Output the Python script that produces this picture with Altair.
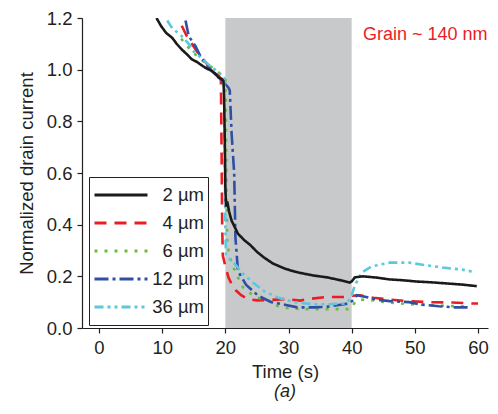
import altair as alt
import pandas as pd

# ---------------- data ----------------
series_names = ["2 µm", "4 µm", "6 µm", "12 µm", "36 µm"]
series_colors = ["#1a1a1a", "#ec1c24", "#6cbd45", "#2e4fa3", "#5bc8dc"]
series_dashes = [[1, 0], [12, 8], [3, 7], [14, 4, 3, 4], [9, 4, 3, 4, 3, 4]]

t_2um = [9.1, 9.8, 10.6, 11.6, 12.3, 13.1, 13.9, 14.7, 15.5, 16.3, 17.0, 17.7, 18.4,
         18.9, 19.4, 19.7, 19.8, 19.9, 20.0, 20.1, 20.3, 20.6, 21.0, 21.5, 22.0, 23.0,
         24.0, 25.0, 26.0, 27.5, 29.4, 31.0, 32.5, 34.0, 36.1, 38.0, 39.7, 40.0, 40.5,
         41.8, 44.0, 46.0, 48.0, 50.2, 52.5, 55.3, 57.5, 59.8]
v_2um = [1.20, 1.17, 1.143, 1.123, 1.10, 1.078, 1.06, 1.04, 1.03, 1.016, 1.005, 0.997, 0.985,
         0.97, 0.965, 0.955, 0.90, 0.75, 0.55, 0.47, 0.49, 0.45, 0.415, 0.39, 0.365, 0.34,
         0.32, 0.295, 0.275, 0.25, 0.23, 0.218, 0.21, 0.203, 0.196, 0.186, 0.176, 0.18, 0.196,
         0.20, 0.195, 0.188, 0.185, 0.18, 0.177, 0.172, 0.168, 0.162]

t_4um = [13.1, 13.9, 14.7, 15.5, 16.5, 17.5, 18.4, 19.0, 19.3, 19.4, 19.5, 19.6, 20.0,
         20.5, 21.0, 21.7, 22.5, 23.6, 25.0, 27.0, 29.4, 31.9, 33.0, 36.1, 39.2, 40.0,
         41.3, 43.4, 46.0, 49.1, 52.2, 55.9, 59.0, 60.0]
v_4um = [1.17, 1.13, 1.10, 1.07, 1.04, 1.01, 0.99, 0.975, 0.96, 0.70, 0.40, 0.28, 0.24,
         0.195, 0.17, 0.145, 0.127, 0.112, 0.107, 0.108, 0.112, 0.106, 0.112, 0.12, 0.12, 0.125,
         0.127, 0.117, 0.11, 0.104, 0.10, 0.099, 0.095, 0.095]

t_6um = [13.0, 14.7, 16.4, 18.4, 19.6, 20.0, 20.1, 20.2, 20.3, 21.0, 22.0, 22.8, 24.7,
         26.7, 28.3, 30.3, 32.5, 36.1, 39.7, 40.0, 40.5, 41.3, 43.4, 45.2, 49.1, 52.8,
         56.9, 58.0]
v_6um = [1.12, 1.07, 1.035, 1.0, 0.975, 0.966, 0.80, 0.50, 0.32, 0.25, 0.196, 0.157, 0.12,
         0.107, 0.085, 0.075, 0.073, 0.073, 0.073, 0.077, 0.10, 0.11, 0.107, 0.10, 0.092, 0.088,
         0.084, 0.083]

t_12um = [13.7, 14.2, 15.3, 16.1, 17.3, 18.9, 19.6, 20.5, 20.7, 21.0, 21.4, 21.6, 22.0,
          23.3, 25.2, 27.3, 29.4, 31.4, 34.0, 36.0, 38.8, 39.7, 40.3, 40.8, 42.3, 43.9,
          46.0, 49.1, 50.6, 53.8, 56.4, 59.0]
v_12um = [1.19, 1.13, 1.09, 1.05, 1.01, 0.97, 0.955, 0.93, 0.92, 0.75, 0.60, 0.35, 0.22,
          0.167, 0.125, 0.10, 0.09, 0.08, 0.08, 0.082, 0.092, 0.096, 0.11, 0.127, 0.12, 0.11,
          0.104, 0.10, 0.092, 0.084, 0.08, 0.08]

t_36um = [10.8, 11.6, 13.1, 14.2, 15.0, 16.1, 17.3, 18.4, 19.4, 19.8, 19.9, 20.0, 20.1,
          20.8, 21.8, 22.8, 24.4, 26.2, 28.3, 30.9, 34.0, 36.5, 38.8, 39.5, 40.0, 40.5,
          41.6, 43.1, 46.0, 49.1, 51.2, 54.4, 57.5, 59.0]
v_36um = [1.19, 1.16, 1.13, 1.10, 1.07, 1.047, 1.02, 1.0, 0.98, 0.97, 0.70, 0.40, 0.28,
          0.265, 0.24, 0.21, 0.175, 0.142, 0.118, 0.10, 0.092, 0.092, 0.095, 0.105, 0.127, 0.165,
          0.215, 0.238, 0.253, 0.253, 0.245, 0.234, 0.226, 0.219]

shade_start = [20]
shade_end = [40]
shade_low = [0.0]
shade_high = [1.2]

note_text = ["Grain ~ 140 nm"]
note_t = [41.8]
note_v = [1.116]

x_ticks = [0, 5, 10, 15, 20, 25, 30, 35, 40, 45, 50, 55, 60]
y_ticks = [0.0, 0.1, 0.2, 0.3, 0.4, 0.5, 0.6, 0.7, 0.8, 0.9, 1.0, 1.1, 1.2]

# ---------------- tables ----------------
all_t = [t_2um, t_4um, t_6um, t_12um, t_36um]
all_v = [v_2um, v_4um, v_6um, v_12um, v_36um]
rows = []
for name, ts, vs in zip(series_names, all_t, all_v):
    for i, (t, v) in enumerate(zip(ts, vs)):
        rows.append({"series": name, "t": t, "v": v, "i": i})
df = pd.DataFrame(rows)

shade_df = pd.DataFrame({"x0": shade_start, "x1": shade_end, "y0": shade_low, "y1": shade_high})
note_df = pd.DataFrame({"label": note_text, "t": note_t, "v": note_v})

FONT = "Liberation Sans"
TXT = "#231f20"

xscale = alt.Scale(domain=[-2.69, 61.58], nice=False, zero=False)
yscale = alt.Scale(domain=[0, 1.2], nice=False)

x_axis = alt.Axis(values=x_ticks, labelExpr="datum.value % 10 == 0 ? datum.label : ''",
                  title="Time (s)", grid=False, tickSize=5, labelPadding=5,
                  titlePadding=6)
y_axis = alt.Axis(values=y_ticks, format=".1f",
                  labelExpr="round(datum.value*10) % 2 == 0 ? datum.label : ''",
                  tickSize={"condition": {"test": "round(datum.value*10) % 2 == 0", "value": 5}, "value": 2.5},
                  title="Normalized drain current", grid=False, labelPadding=5,
                  titlePadding=10)

shade = alt.Chart(shade_df).mark_rect(color="#c8c9cb").encode(
    x=alt.X("x0:Q", scale=xscale, axis=x_axis),
    x2="x1:Q",
    y=alt.Y("y0:Q", scale=yscale, axis=y_axis),
    y2="y1:Q",
)

color_enc = alt.Color("series:N", scale=alt.Scale(domain=series_names, range=series_colors),
                      legend=alt.Legend(orient="none", legendX=7, legendY=159, title=None,
                                        symbolType="stroke", symbolSize=2809,
                                        symbolStrokeWidth=3, clipHeight=28, rowPadding=0,
                                        labelAlign="right", labelOffset=55, labelLimit=0,
                                        labelFontSize=18.5, labelFont=FONT, labelColor=TXT,
                                        strokeColor="#231f20", fillColor="white",
                                        padding=4))
dash_enc = alt.StrokeDash("series:N", scale=alt.Scale(domain=series_names, range=series_dashes),
                          legend=None)

lines_col = alt.Chart(df).transform_filter(alt.datum.series != "2 µm").mark_line(
    strokeWidth=2.6, strokeCap="butt", clip=True).encode(
    x=alt.X("t:Q", scale=xscale),
    y=alt.Y("v:Q", scale=yscale),
    color=color_enc,
    strokeDash=dash_enc,
    order="i:Q",
)
lines_blk = alt.Chart(df).transform_filter(alt.datum.series == "2 µm").mark_line(
    strokeWidth=2.6, strokeCap="butt", clip=True).encode(
    x=alt.X("t:Q", scale=xscale),
    y=alt.Y("v:Q", scale=yscale),
    color=color_enc,
    strokeDash=dash_enc,
    order="i:Q",
)

note = alt.Chart(note_df).mark_text(align="left", baseline="alphabetic", fontSize=18,
                                    font=FONT, color="#ec1c24").encode(
    x=alt.X("t:Q", scale=xscale),
    y=alt.Y("v:Q", scale=yscale),
    text="label:N",
)

chart = alt.layer(shade, lines_col, lines_blk, note).properties(
    width=406, height=310,
    autosize=alt.AutoSizeParams(type="none"),
    padding={"left": 74, "top": 10, "right": 2, "bottom": 78},
    title=alt.TitleParams(text="(a)", orient="bottom", anchor="middle", fontStyle="italic",
                          fontWeight="normal", fontSize=18, font=FONT, color=TXT, offset=2),
).configure_view(stroke=None).configure_axis(
    labelFont=FONT, titleFont=FONT, labelFontSize=18.5, titleFontSize=18.5,
    labelColor=TXT, titleColor=TXT, titleFontWeight="normal",
    domainColor=TXT, tickColor=TXT, domainWidth=1.2, tickWidth=1.2,
)

chart.save("out.html", embed_options={"renderer": "svg", "actions": False})
